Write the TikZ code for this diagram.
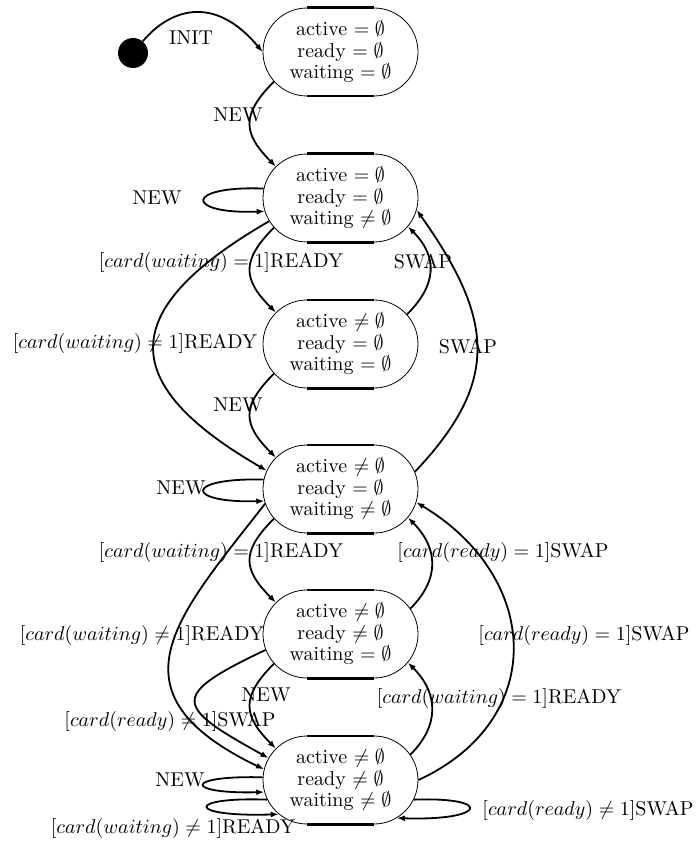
\documentclass[tikz,border=0pt]{standalone}
\usetikzlibrary{shapes.misc,arrows.meta}
\begin{document}
\begin{tikzpicture}[x=0.5pt,y=-0.5pt,
  state/.style={rounded rectangle, draw, line width=0.4pt, minimum width=77.5pt,
    minimum height=44pt, inner sep=0pt, align=center,
    font=\fontsize{10}{10.75}\selectfont},
  tr/.style={line width=0.9pt, -{Latex[length=4pt,width=3pt]}},
  lbl/.style={inner sep=0pt, font=\fontsize{10}{12}\selectfont},
  edgetop/.style={line width=1.1pt}]
\useasboundingbox (0,0) rectangle (695,850);

% states
\node[state] (s1) at (340.5,52)  {active $=\emptyset$\\ready $=\emptyset$\\waiting $=\emptyset$};
\node[state] (s2) at (340.5,198) {active $=\emptyset$\\ready $=\emptyset$\\waiting $\neq\emptyset$};
\node[state] (s3) at (340.5,344) {active $\neq\emptyset$\\ready $=\emptyset$\\waiting $=\emptyset$};
\node[state] (s4) at (340.5,489) {active $\neq\emptyset$\\ready $=\emptyset$\\waiting $\neq\emptyset$};
\node[state] (s5) at (340.5,634) {active $\neq\emptyset$\\ready $\neq\emptyset$\\waiting $=\emptyset$};
\node[state] (s6) at (340.5,780) {active $\neq\emptyset$\\ready $\neq\emptyset$\\waiting $\neq\emptyset$};
\foreach \s in {s1,s2,s3,s4,s5,s6} {
  \draw[edgetop] (\s.north west) -- (\s.north east);
  \draw[edgetop] (\s.south west) -- (\s.south east);
}

\node[circle, fill=black, minimum size=15pt, inner sep=0pt] (init) at (133,53) {};

% labels
\node[lbl] (l1)  at (191,38)  {INIT};
\node[lbl] (l2)  at (238,115) {NEW};
\node[lbl] (l3)  at (157,198) {NEW};
\node[lbl] (l4)  at (221,262) {$[card(waiting)=1]$READY};
\node[lbl] (l5)  at (423,262) {SWAP};
\node[lbl] (l6)  at (135,343) {$[card(waiting)\neq1]$READY};
\node[lbl] (l7)  at (468,347) {SWAP};
\node[lbl] (l8)  at (238,405) {NEW};
\node[lbl] (l9)  at (181,488) {NEW};
\node[lbl] (l10) at (221,552) {$[card(waiting)=1]$READY};
\node[lbl] (l11) at (503,552) {$[card(ready)=1]$SWAP};
\node[lbl] (l12) at (142,635) {$[card(waiting)\neq1]$READY};
\node[lbl] (l13) at (584,635) {$[card(ready)=1]$SWAP};
\node[lbl] (l14) at (266,695) {NEW};
\node[lbl] (l15) at (499,698) {$[card(waiting)=1]$READY};
\node[lbl] (l16) at (170,721) {$[card(ready)\neq1]$SWAP};
\node[lbl] (l17) at (180,780) {NEW};
\node[lbl] (l18) at (173,828) {$[card(waiting)\neq1]$READY};
\node[lbl] (l19) at (588,810) {$[card(ready)\neq1]$SWAP};

% transitions
\draw[tr] (init.50) .. controls +(25,-30) and +(-50,-60) .. (s1.west);
\draw[tr] (s1.204) .. controls +(-33,33) and +(-33,-33) .. (s2.154);
\draw[tr] (s2.173) .. controls +(-80,-3) and +(-80,3) .. (s2.190);
\draw[tr] (s2.204) .. controls +(-33,33) and +(-33,-33) .. (s3.154);
\draw[tr] (s3.24) .. controls +(30,-30) and +(30,30) .. (s2.337);
\draw[tr] (s2.198) .. controls +(-152,88) and +(-152,-88) .. (s4.166);
\draw[tr] (s4.13) .. controls +(85,-90) and +(78,110) .. (s2.351);
\draw[tr] (s3.204) .. controls +(-33,33) and +(-33,-33) .. (s4.154);
\draw[tr] (s4.173) .. controls +(-80,-2) and +(-80,2) .. (s4.189);
\draw[tr] (s4.204) .. controls +(-33,33) and +(-33,-33) .. (s5.154);
\draw[tr] (s5.20) .. controls +(30,-30) and +(30,30) .. (s4.337);
\draw[tr] (s4.191) .. controls +(-88,113) and +(-160,-77) .. (s6.172);
\draw[tr] (s6.0) .. controls +(130,-60) and +(125,75) .. (s4.350);
\draw[tr] (s5.204) .. controls +(-33,33) and +(-33,-33) .. (s6.154);
\draw[tr] (s6.20) .. controls +(30,-30) and +(30,30) .. (s5.337);
\draw[tr] (s5.192) .. controls +(-97,46) and +(-94,-52) .. (s6.163);
\draw[tr] (s6.178) .. controls +(-80,-2) and +(-80,2) .. (s6.189);
\draw[tr] (s6.195) .. controls +(-82,-3) and +(-93,3) .. (s6.209);
\draw[tr] (s6.345) .. controls +(80,-3) and +(90,3) .. (s6.326);
\end{tikzpicture}
\end{document}
